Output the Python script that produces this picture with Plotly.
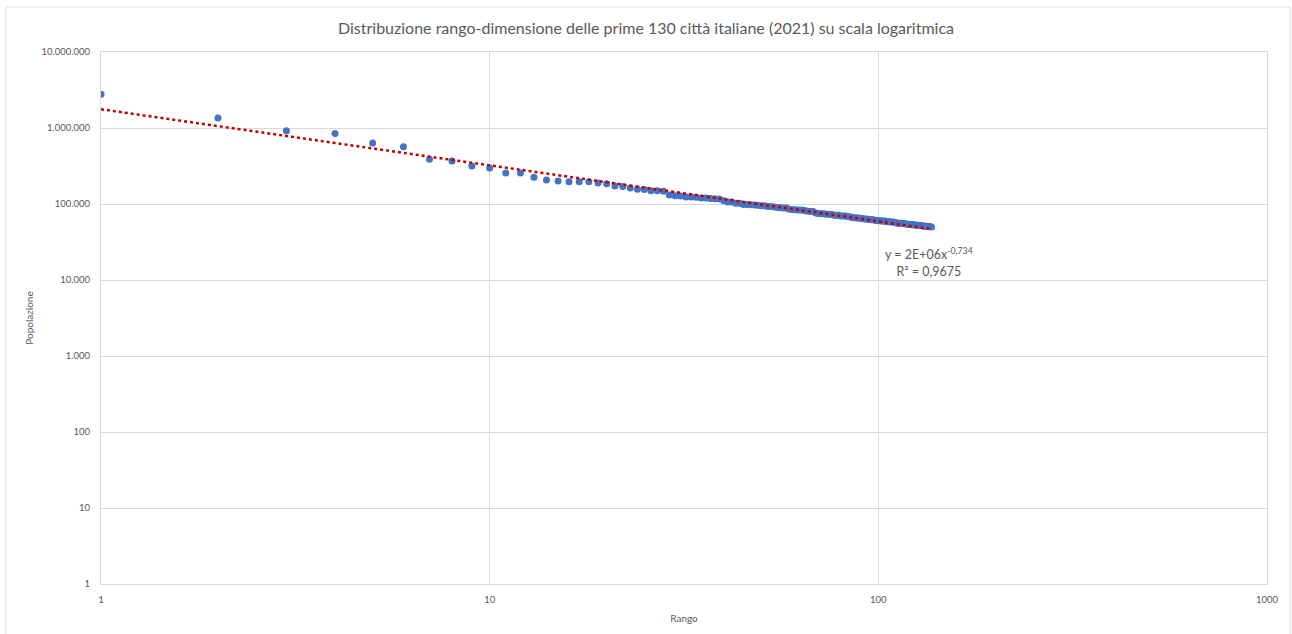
import numpy as np
import plotly.graph_objects as go

# Population of the first Italian cities (2021), ordered by rank
popolazione = [
    2783809, 1349930, 921142, 848885, 635439, 565752, 388884, 367150, 316015, 298762,
    255133, 254850, 224821, 206496, 200609, 196655, 196446, 195736, 189461, 184739,
    172479, 169990, 162467, 155836, 154915, 149403, 149092, 147036, 130992, 128419,
    127226, 123839, 123782, 122955, 119806, 119554, 118142, 117053, 116434, 110167,
    106525, 106441, 102269, 101916, 98820, 98243, 97916, 97109, 95935, 94773,
    94604, 92612, 92501, 91531, 89915, 89523, 88824, 88673, 85541, 84671,
    84125, 83627, 83320, 83062, 81308, 80008, 79876, 79793, 76142, 74816,
    74799, 74209, 73899, 73190, 73084, 72755, 71219, 71170, 71083, 69764,
    69599, 69439, 69141, 67925, 67433, 66128, 65943, 65266, 65216, 64938,
    64224, 63651, 63397, 63140, 62643, 61860, 61849, 60894, 60736, 60359,
    60259, 59971, 59907, 59622, 58619, 58307, 58200, 57869, 57756, 57700,
    56766, 56016, 55864, 55700, 55504, 55250, 55035, 54591, 54000, 53800,
    53600, 53400, 53300, 53100, 52900, 52700, 52600, 52300, 52000, 51500,
    51300, 51000, 50800, 50600, 50400, 50200, 50000,
]
rango = list(range(1, len(popolazione) + 1))

y_tickvals = [1, 10, 100, 1000, 10000, 100000, 1000000, 10000000]
y_ticktext = ["1", "10", "100", "1.000", "10.000", "100.000", "1.000.000", "10.000.000"]
x_tickvals = [1, 10, 100, 1000]
x_ticktext = ["1", "10", "100", "1000"]

titolo = "Distribuzione rango-dimensione delle prime 130 città italiane (2021) su scala logaritmica"
eq_text = "y = 2E+06x<sup>-0,734</sup><br>R² = 0,9675"

# power trendline (least squares in log-log space)
lx = np.log10(rango)
ly = np.log10(popolazione)
b, a = np.polyfit(lx, ly, 1)
tx = np.logspace(0, np.log10(rango[-1]), 200)
ty = 10 ** a * tx ** b

GRID = "#D9D9D9"
TXT = "#595959"
FONT = "Lato, 'Open Sans', sans-serif"

fig = go.Figure()
fig.add_trace(go.Scatter(
    x=rango, y=popolazione, mode="markers",
    marker=dict(color="#4472C4", size=7, line=dict(width=0)),
    showlegend=False, hoverinfo="x+y",
))
fig.add_trace(go.Scatter(
    x=tx, y=ty, mode="lines",
    line=dict(color="#C00000", width=2.5, dash="dot"),
    showlegend=False, hoverinfo="skip",
))

fig.update_layout(
    width=1292, height=634,
    margin=dict(l=101, r=25, t=52, b=50),
    paper_bgcolor="white", plot_bgcolor="white",
    font=dict(family=FONT, color=TXT, size=10),
    title=dict(text=titolo, x=0.5, xanchor="center", y=0.955, yanchor="middle",
               font=dict(size=16, color=TXT, family=FONT)),
    xaxis=dict(
        type="log", range=[0, 3], tickvals=x_tickvals, ticktext=x_ticktext,
        showgrid=True, gridcolor=GRID, gridwidth=1,
        showline=True, linecolor=GRID, linewidth=1, mirror=True,
        zeroline=False, ticks="", tickfont=dict(size=9.5, color=TXT),
        ticklabelstandoff=7,
        title=dict(text="Rango", font=dict(size=10, color=TXT), standoff=10),
    ),
    yaxis=dict(
        type="log", range=[0, 7], tickvals=y_tickvals, ticktext=y_ticktext,
        showgrid=True, gridcolor=GRID, gridwidth=1,
        showline=True, linecolor=GRID, linewidth=1, mirror=True,
        zeroline=False, ticks="", tickfont=dict(size=9.5, color=TXT),
        ticklabelstandoff=8,
        title=dict(text="Popolazione", font=dict(size=10, color=TXT), standoff=6),
    ),
    annotations=[dict(
        x=2.1295, y=4.24, xref="x", yref="y", text=eq_text, showarrow=False,
        align="center", font=dict(size=12.5, color=TXT, family=FONT),
    )],
    shapes=[
        dict(type="line", xref="paper", yref="paper",
             x0=(6 - 101) / 1166, x1=(6 - 101) / 1166, y0=(584 - 640) / 532, y1=(584 - 7) / 532,
             line=dict(color=GRID, width=1)),
        dict(type="line", xref="paper", yref="paper",
             x0=(6 - 101) / 1166, x1=(1290 - 101) / 1166, y0=(584 - 7) / 532, y1=(584 - 7) / 532,
             line=dict(color=GRID, width=1)),
        dict(type="line", xref="paper", yref="paper",
             x0=(1290 - 101) / 1166, x1=(1290 - 101) / 1166, y0=(584 - 640) / 532, y1=(584 - 7) / 532,
             line=dict(color=GRID, width=1)),
    ],
)

fig.write_html("out.html")
